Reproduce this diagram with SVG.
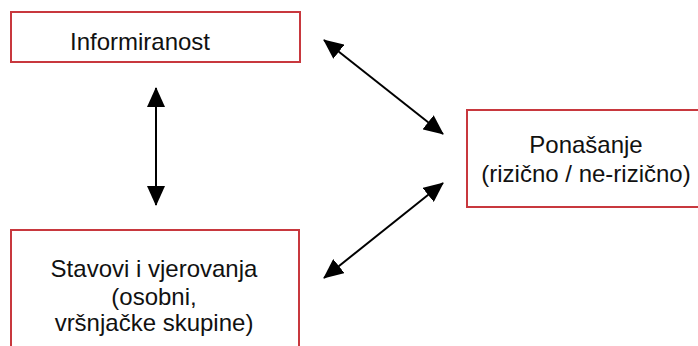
<svg xmlns="http://www.w3.org/2000/svg" width="698" height="346" viewBox="0 0 698 346">
<defs>
<style>
.box{fill:#fff;stroke:#c8383e;stroke-width:2}
.t{font-family:"Liberation Sans",Arial,sans-serif;font-size:24px;fill:#111;text-anchor:middle}
.c{stroke:#000;stroke-width:2;fill:none;marker-start:url(#a);marker-end:url(#a)}
</style>
<marker id="a" viewBox="0 0 20 18" refX="19" refY="9" markerWidth="20" markerHeight="18" markerUnits="userSpaceOnUse" orient="auto-start-reverse">
<path d="M0,0 L20,9 L0,18 Z" fill="#000"/>
</marker>
</defs>
<rect width="698" height="346" fill="#fff"/>
<g id="informiranost">
<rect class="box" x="11" y="12" width="289" height="50"/>
<text class="t" x="140" y="50">Informiranost</text>
</g>
<g id="stavovi">
<rect class="box" x="11" y="230" width="288" height="130"/>
<text class="t" x="154" y="277">Stavovi i vjerovanja</text>
<text class="t" x="154" y="305">(osobni,</text>
<text class="t" x="154" y="331">vršnjačke skupine)</text>
</g>
<g id="ponasanje">
<rect class="box" x="467" y="110" width="240" height="97"/>
<text class="t" x="586" y="153">Ponašanje</text>
<text class="t" x="586" y="182">(rizično / ne-rizično)</text>
</g>
<g id="connectors">
<line class="c" x1="156" y1="88" x2="156" y2="205"/>
<line class="c" x1="324" y1="40" x2="443" y2="134"/>
<line class="c" x1="443" y1="183" x2="324" y2="278"/>
</g>
</svg>
